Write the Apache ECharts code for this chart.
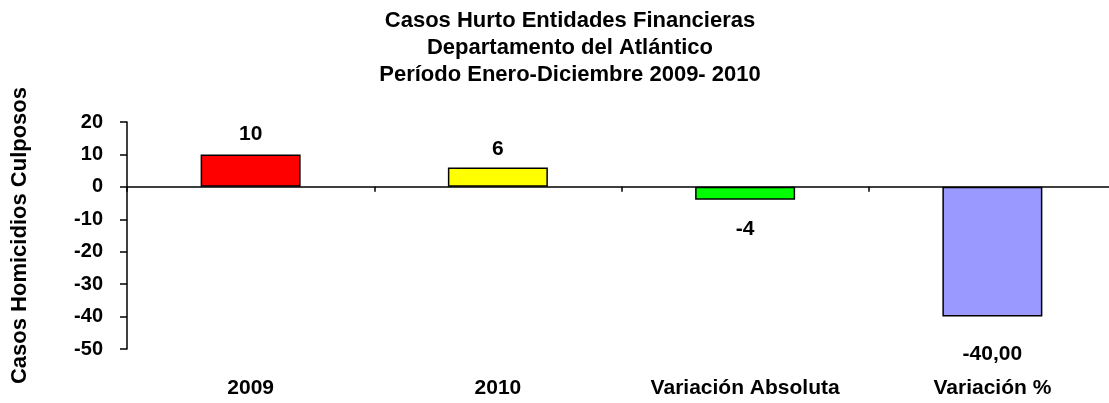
<!DOCTYPE html>
<html>
<head>
<meta charset="UTF-8">
<title>Casos Hurto Entidades Financieras</title>
<script src="https://cdn.jsdelivr.net/npm/echarts@6/dist/echarts.min.js"></script>
<style>
html,body{margin:0;padding:0;background:#fff;}
#chart{width:1109px;height:403px;}
</style>
</head>
<body>
<div id="chart"></div>
<script type="text/javascript">
// datos
var categorias = ['2009', '2010', 'Variación Absoluta', 'Variación %'];
var valores = [10, 6, -4, -40];
var etiquetas = ['10', '6', '-4', '-40,00'];
var colores = ['#FF0000', '#FFFF00', '#00FF00', '#9999FF'];
var distancias = [10, 8, 19, 27];

var fuente = 'Liberation Sans, Arial, sans-serif';
var texto = { fontFamily: fuente, fontSize: 20, fontWeight: 'bold', color: '#000' };

var datos = valores.map(function (v, i) {
	return {
		value: v,
		itemStyle: { color: colores[i] },
		label: {
			position: v >= 0 ? 'top' : 'bottom',
			distance: distancias[i],
			formatter: etiquetas[i]
		}
	};
});

var myChart = echarts.init(document.getElementById('chart'));
myChart.setOption({
	animation: false,
	title: {
		text: 'Casos Hurto Entidades Financieras\nDepartamento del Atlántico\nPeríodo Enero-Diciembre 2009- 2010',
		left: 565,
		top: 2,
		textAlign: 'center',
		textStyle: Object.assign({}, texto, { fontSize: 22, lineHeight: 27 })
	},
	grid: { left: 127, right: -7, top: 122, bottom: 54, containLabel: false, outerBoundsMode: 'none' },
	xAxis: [{
		// eje en cero con las marcas
		type: 'category',
		data: categorias,
		axisLine: { onZero: true, lineStyle: { color: '#000', width: 1.5 } },
		axisTick: { show: true, length: 5, lineStyle: { color: '#000', width: 1.5 } },
		axisLabel: { show: false }
	}, {
		// solo los nombres abajo
		type: 'category',
		data: categorias,
		position: 'bottom',
		axisLine: { show: false, onZero: false },
		axisTick: { show: false },
		axisLabel: Object.assign({ margin: 29, interval: 0 }, texto, { fontSize: 21 })
	}],
	yAxis: {
		type: 'value',
		min: -50,
		max: 20,
		interval: 10,
		name: 'Casos Homicidios Culposos',
		nameLocation: 'middle',
		nameGap: 96,
		nameTextStyle: Object.assign({}, texto, { fontSize: 22 }),
		splitLine: { show: false },
		axisLine: { show: true, lineStyle: { color: '#000', width: 1.5 } },
		axisTick: { show: true, length: 7, lineStyle: { color: '#000', width: 1.5 } },
		axisLabel: Object.assign({ margin: 24 }, texto)
	},
	series: [{
		type: 'bar',
		data: datos,
		barWidth: 100,
		itemStyle: { borderColor: '#000', borderWidth: 1.5 },
		label: Object.assign({ show: true }, texto, { fontSize: 21 })
	}]
});
</script>
</body>
</html>
